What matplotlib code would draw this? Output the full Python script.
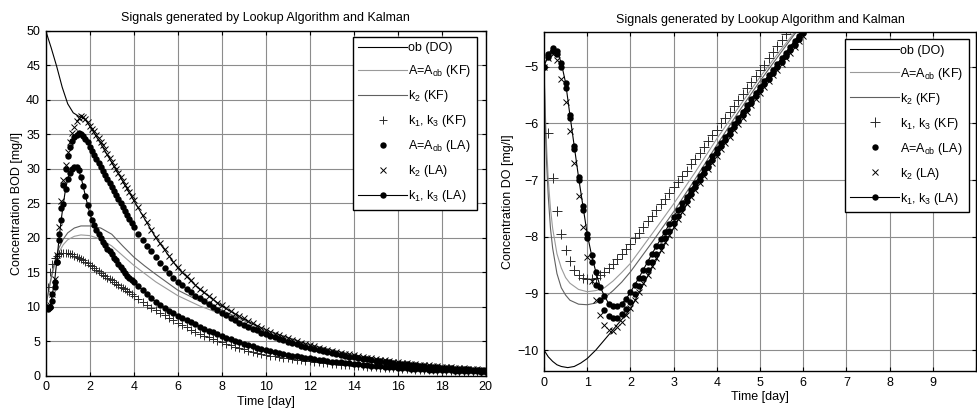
import numpy as np
import matplotlib
matplotlib.use("Agg")
import matplotlib.pyplot as plt

plt.rcParams['font.family'] = ['Liberation Sans', 'DejaVu Sans']
plt.rcParams['mathtext.fontset'] = 'custom'
plt.rcParams['mathtext.rm'] = 'Liberation Sans'
plt.rcParams['mathtext.it'] = 'Liberation Sans'
plt.rcParams['mathtext.default'] = 'rm'

labels = ['ob (DO)', 'A=A$_{ob}$ (KF)', 'k$_2$ (KF)', 'k$_1$, k$_3$ (KF)',
          'A=A$_{ob}$ (LA)', 'k$_2$ (LA)', 'k$_1$, k$_3$ (LA)']
title = 'Signals generated by Lookup Algorithm and Kalman'

# ---------------- BOD (left) ----------------
# sampled every 0.1 day up to day 4, then every 0.2 day
t_bod = np.round(np.concatenate([np.arange(0, 4.05, 0.1), np.arange(4.2, 20.05, 0.2)]), 1)

t_ob_bod = [0, 0.25, 0.5, 0.75, 1.0, 1.25, 1.5, 1.75, 2, 2.5, 3, 3.5, 4, 5, 6, 7, 8, 9, 10, 12, 14, 16, 18, 20]
ob_bod = [50, 47.5, 44.8, 41.8, 39.4, 38.1, 37.6, 37.3, 36.2, 33.6, 30.9, 28.2, 25.4, 20.0, 15.6, 12.5,
          10.1, 8.2, 6.6, 4.4, 2.95, 1.95, 1.3, 0.85]

t_kf_bod = [0, 0.2, 0.4, 0.6, 0.8, 1.0, 1.3, 1.6, 2.0, 2.5, 3.0, 3.5, 4.0, 4.5, 5.0, 6.0, 7.0, 8.0, 9.0, 10.0,
            12, 14, 16, 18, 20]
aob_kf_bod = [10, 13.3, 16.0, 17.9, 19.0, 19.7, 20.2, 20.4, 20.3, 19.8, 18.8, 17.4, 16.0, 14.8, 13.6, 11.6,
              10.1, 8.9, 7.6, 6.3, 4.3, 2.85, 1.9, 1.3, 0.85]
k2_kf_bod = [10, 13.5, 16.5, 18.5, 19.8, 20.7, 21.4, 21.7, 21.7, 21.4, 20.5, 18.8, 17.2, 15.9, 14.7, 12.4,
             10.8, 9.5, 8.0, 6.6, 4.5, 3.0, 2.0, 1.35, 0.9]

k13_kf_bod = [10.0, 12.8, 15.0, 16.2, 17.0, 17.4, 17.6, 17.75, 17.8, 17.82,
              17.8, 17.7, 17.6, 17.4, 17.2, 17.05, 16.9, 16.7, 16.5, 16.3,
              16.1, 15.85, 15.6, 15.35, 15.1, 14.85, 14.6, 14.4, 14.2, 14.0,
              13.8, 13.55, 13.3, 13.1, 12.9, 12.7, 12.5, 12.3, 12.1, 11.85,
              11.6,
              11.15, 10.7, 10.25, 9.85, 9.45, 9.08, 8.72, 8.37, 8.03,
              7.7, 7.35, 7.01, 6.69, 6.38, 6.09, 5.81, 5.54, 5.29, 5.05,
              4.82, 4.6, 4.39, 4.19, 3.99, 3.81, 3.64, 3.47, 3.31, 3.16,
              3.01, 2.9, 2.8, 2.7, 2.6, 2.5, 2.41, 2.33, 2.24, 2.16,
              2.08, 2.01, 1.94, 1.87, 1.8, 1.74, 1.67, 1.61, 1.56, 1.5,
              1.45, 1.4, 1.35, 1.3, 1.25, 1.21, 1.16, 1.12, 1.08, 1.04,
              1.01, 0.97, 0.94, 0.9, 0.87, 0.84, 0.81, 0.78, 0.75, 0.73,
              0.7, 0.68, 0.65, 0.63, 0.6, 0.58, 0.56, 0.54, 0.52, 0.5,
              0.48]
aob_la_bod = [10.0, 9.8, 9.9, 10.8, 12.8, 16.5, 20.5, 24.3, 27.6, 30.0,
              31.8, 33.1, 34.0, 34.6, 34.95, 35.1, 35.0, 34.7, 34.3, 33.8,
              33.2, 32.6, 32.0, 31.4, 30.8, 30.2, 29.6, 29.05, 28.5, 27.95,
              27.4, 26.8, 26.2, 25.6, 25.0, 24.45, 23.9, 23.3, 22.7, 22.15,
              21.6,
              20.6, 19.7, 18.8, 18.0, 17.2, 16.4, 15.6, 14.9, 14.2,
              13.6, 13.1, 12.6, 12.1, 11.6, 11.2, 10.8, 10.4, 10.0, 9.5,
              9.1, 8.75, 8.4, 8.05, 7.7, 7.4, 7.1, 6.8, 6.55, 6.25,
              6.0, 5.78, 5.56, 5.34, 5.12, 4.9, 4.72, 4.54, 4.36, 4.18,
              4.0, 3.85, 3.7, 3.55, 3.4, 3.25, 3.13, 3.01, 2.89, 2.77,
              2.65, 2.55, 2.45, 2.35, 2.25, 2.15, 2.07, 1.99, 1.91, 1.83,
              1.75, 1.68, 1.62, 1.55, 1.49, 1.42, 1.37, 1.31, 1.26, 1.2,
              1.15, 1.11, 1.07, 1.03, 0.99, 0.95, 0.92, 0.88, 0.85, 0.81,
              0.78]
k2_la_bod = [10.0, 10.0, 10.3, 11.8, 14.0, 17.5, 21.5, 25.3, 28.3, 30.6,
             32.4, 33.9, 35.1, 36.1, 36.9, 37.4, 37.6, 37.5, 37.2, 36.7,
             36.2, 35.8, 35.4, 34.9, 34.4, 33.9, 33.4, 32.8, 32.2, 31.6,
             31.0, 30.45, 29.9, 29.35, 28.8, 28.25, 27.7, 27.15, 26.6, 26.05,
             25.5,
             24.4, 23.3, 22.2, 21.1, 20.1, 19.2, 18.3, 17.4, 16.5,
             15.7, 15.0, 14.4, 13.8, 13.2, 12.6, 12.1, 11.6, 11.1, 10.6,
             10.2, 9.8, 9.4, 9.0, 8.6, 8.3, 7.9, 7.6, 7.2, 6.9,
             6.6, 6.35, 6.1, 5.85, 5.6, 5.4, 5.2, 5.0, 4.8, 4.6,
             4.4, 4.24, 4.08, 3.92, 3.76, 3.6, 3.47, 3.34, 3.21, 3.08,
             2.95, 2.84, 2.73, 2.62, 2.51, 2.4, 2.31, 2.22, 2.13, 2.04,
             1.95, 1.88, 1.81, 1.74, 1.67, 1.6, 1.54, 1.48, 1.42, 1.36,
             1.3, 1.25, 1.2, 1.15, 1.1, 1.05, 1.01, 0.97, 0.93, 0.89,
             0.85]
k13_la_bod = [10.0, 9.7, 9.9, 11.8, 13.6, 16.5, 19.7, 22.5, 24.9, 27.0,
              28.5, 29.4, 29.9, 30.2, 30.3, 29.8, 28.8, 27.5, 26.1, 24.8,
              23.6, 22.6, 21.8, 21.1, 20.5, 19.9, 19.4, 18.9, 18.4, 18.0,
              17.6, 17.1, 16.7, 16.2, 15.8, 15.3, 14.9, 14.5, 14.1, 13.85,
              13.6,
              13.0, 12.4, 11.8, 11.2, 10.7, 10.25, 9.8, 9.4, 9.05,
              8.7, 8.38, 8.06, 7.74, 7.42, 7.1, 6.82, 6.54, 6.26, 5.98,
              5.7, 5.48, 5.26, 5.04, 4.82, 4.6, 4.42, 4.24, 4.06, 3.88,
              3.7, 3.56, 3.42, 3.28, 3.14, 3.0, 2.9, 2.8, 2.7, 2.6,
              2.5, 2.41, 2.32, 2.23, 2.14, 2.05, 1.98, 1.91, 1.84, 1.77,
              1.7, 1.64, 1.58, 1.52, 1.46, 1.4, 1.35, 1.3, 1.25, 1.2,
              1.15, 1.11, 1.07, 1.03, 0.99, 0.95, 0.92, 0.89, 0.86, 0.83,
              0.8, 0.78, 0.75, 0.73, 0.7, 0.68, 0.66, 0.64, 0.62, 0.6,
              0.58]

# ---------------- DO (right) ----------------
t_do = np.round(np.arange(0, 6.01, 0.1), 1)

t_ob_do = [0, 0.1, 0.2, 0.3, 0.4, 0.55, 0.7, 0.85, 1.0, 1.2, 1.4, 1.6, 1.8, 2.0, 2.5, 3.0, 3.5, 4.0, 4.5,
           5.0, 5.5, 6.0]
ob_do = [-10.0, -10.12, -10.2, -10.26, -10.29, -10.31, -10.29, -10.23, -10.15, -10.0, -9.82, -9.64, -9.46,
         -9.28, -8.55, -7.85, -7.15, -6.5, -5.9, -5.35, -4.85, -4.33]

t_kf_do = [0, 0.03, 0.06, 0.1, 0.15, 0.2, 0.3, 0.4, 0.5, 0.6, 0.8, 1.0, 1.2, 1.4, 1.6, 1.8, 2.0, 2.5, 3.0,
           3.5, 4.0, 4.5, 5.0, 5.5, 6.0]
aob_kf_do = [-5.0, -5.8, -6.4, -7.0, -7.5, -7.85, -8.3, -8.55, -8.72, -8.82, -8.93, -8.97, -8.95, -8.9,
             -8.78, -8.63, -8.47, -7.95, -7.42, -6.86, -6.27, -5.72, -5.18, -4.68, -4.2]
k2_kf_do = [-5.0, -6.0, -6.7, -7.3, -7.85, -8.2, -8.65, -8.9, -9.03, -9.12, -9.19, -9.2, -9.17, -9.08,
            -8.95, -8.8, -8.62, -8.1, -7.56, -6.98, -6.38, -5.8, -5.25, -4.73, -4.22]

k13_kf_do = [-5.00, -6.17, -6.97, -7.55, -7.95, -8.23, -8.42, -8.58, -8.67, -8.72,
             -8.74, -8.74, -8.72, -8.68, -8.63, -8.56, -8.48, -8.39, -8.30, -8.22,
             -8.13, -8.03, -7.93, -7.83, -7.73, -7.63, -7.53, -7.43, -7.33, -7.23,
             -7.13, -7.03, -6.93, -6.83, -6.72, -6.62, -6.52, -6.42, -6.31, -6.21,
             -6.11, -6.00, -5.90, -5.80, -5.69, -5.59, -5.48, -5.38, -5.27, -5.17,
             -5.06, -4.96, -4.85, -4.74, -4.64, -4.53, -4.42, -4.32, -4.21, -4.10,
             -4.00]
aob_la_do = [-5.00, -4.83, -4.72, -4.78, -5.00, -5.38, -5.90, -6.45, -7.00, -7.52,
             -8.02, -8.45, -8.85, -9.12, -9.30, -9.40, -9.44, -9.43, -9.37, -9.27,
             -9.15, -9.01, -8.87, -8.73, -8.59, -8.45, -8.31, -8.17, -8.03, -7.89,
             -7.76, -7.63, -7.50, -7.37, -7.24, -7.12, -7.00, -6.88, -6.76, -6.64,
             -6.52, -6.40, -6.29, -6.18, -6.07, -5.96, -5.85, -5.74, -5.63, -5.52,
             -5.41, -5.31, -5.21, -5.11, -5.01, -4.91, -4.81, -4.71, -4.61, -4.51,
             -4.41]
k2_la_do = [-5.00, -4.85, -4.78, -4.88, -5.22, -5.62, -6.13, -6.70, -7.28, -7.83,
            -8.35, -8.78, -9.12, -9.38, -9.56, -9.65, -9.66, -9.60, -9.50, -9.38,
            -9.25, -9.11, -8.97, -8.82, -8.67, -8.52, -8.38, -8.24, -8.10, -7.96,
            -7.82, -7.69, -7.56, -7.43, -7.30, -7.17, -7.05, -6.93, -6.81, -6.69,
            -6.57, -6.45, -6.34, -6.23, -6.12, -6.01, -5.90, -5.79, -5.68, -5.57,
            -5.46, -5.35, -5.25, -5.15, -5.05, -4.95, -4.85, -4.75, -4.65, -4.55,
            -4.45]
k13_la_do = [-5.00, -4.78, -4.66, -4.72, -4.93, -5.28, -5.85, -6.40, -6.95, -7.45,
             -7.95, -8.32, -8.62, -8.88, -9.05, -9.18, -9.23, -9.23, -9.18, -9.10,
             -8.98, -8.85, -8.72, -8.58, -8.44, -8.30, -8.17, -8.04, -7.91, -7.78,
             -7.65, -7.53, -7.41, -7.29, -7.17, -7.05, -6.93, -6.81, -6.69, -6.57,
             -6.45, -6.34, -6.23, -6.12, -6.01, -5.90, -5.79, -5.68, -5.57, -5.46,
             -5.35, -5.25, -5.15, -5.05, -4.95, -4.85, -4.75, -4.65, -4.55, -4.45,
             -4.35]

FS = 9


def draw_panel(ax, t_ob, ob, t_kf, aob_kf, k2_kf, t_m, k13_kf, aob_la, k2_la, k13_la, ms):
    ax.plot(t_ob, ob, color='black', lw=0.8, label=labels[0])
    ax.plot(t_kf, aob_kf, color='#9a9a9a', lw=0.8, label=labels[1])
    ax.plot(t_kf, k2_kf, color='#606060', lw=0.8, label=labels[2])
    ax.plot(t_m, k13_kf, ls='none', marker='+', ms=ms[0], mew=0.7, color='#2a2a2a', label=labels[3])
    ax.plot(t_m, aob_la, ls='none', marker='o', ms=ms[1], mew=0, color='black', label=labels[4])
    ax.plot(t_m, k2_la, ls='none', marker='x', ms=ms[2], mew=0.7, color='black', label=labels[5])
    ax.plot(t_m, k13_la, color='black', lw=0.8, marker='o', ms=ms[1], mew=0, label=labels[6])
    ax.grid(True, color='#8c8c8c', lw=0.8)
    ax.tick_params(direction='in', top=True, right=True, length=3, labelsize=FS, pad=4)
    for s in ax.spines.values():
        s.set_linewidth(1.0)
    ax.set_title(title, fontsize=FS, pad=7)
    ax.set_xlabel('Time [day]', fontsize=FS, labelpad=2)


def add_legend(ax, x_right, y_top):
    leg = ax.legend(loc='upper right', bbox_to_anchor=(x_right / 977, 1 - y_top / 412),
                    bbox_transform=fig.transFigure, borderaxespad=0, fontsize=FS, frameon=True,
                    fancybox=False, edgecolor='black', framealpha=1, handlelength=3.9,
                    handletextpad=0.1, labelspacing=0.72, borderpad=0.45)
    leg.get_frame().set_linewidth(1.0)


fig = plt.figure(figsize=(9.77, 4.12), dpi=100)

axL = fig.add_axes([0.0468, 0.0882, 0.4504, 0.8373])
draw_panel(axL, t_ob_bod, ob_bod, t_kf_bod, aob_kf_bod, k2_kf_bod, t_bod,
           k13_kf_bod, aob_la_bod, k2_la_bod, k13_la_bod, ms=(6, 4.6, 5))
axL.set_xlim(0, 20)
axL.set_ylim(0, 50)
axL.set_xticks(range(0, 21, 2))
axL.set_yticks(range(0, 51, 5))
axL.set_ylabel('Concentration BOD [mg/l]', fontsize=FS, labelpad=2)
add_legend(axL, 477, 36.7)

axR = fig.add_axes([0.5568, 0.0995, 0.4422, 0.8221])
draw_panel(axR, t_ob_do, ob_do, t_kf_do, aob_kf_do, k2_kf_do, t_do,
           k13_kf_do, aob_la_do, k2_la_do, k13_la_do, ms=(7.5, 4.6, 4.8))
axR.set_xlim(0, 10)
axR.set_ylim(-10.37, -4.39)
axR.set_xticks(range(0, 11))
axR.set_xticklabels([str(i) for i in range(10)] + [''])
axR.set_yticks([-10, -9, -8, -7, -6, -5])
axR.set_ylabel('Concentration DO [mg/l]', fontsize=FS, labelpad=2)
add_legend(axR, 969.3, 39)

fig.savefig('out.png', dpi=100)
